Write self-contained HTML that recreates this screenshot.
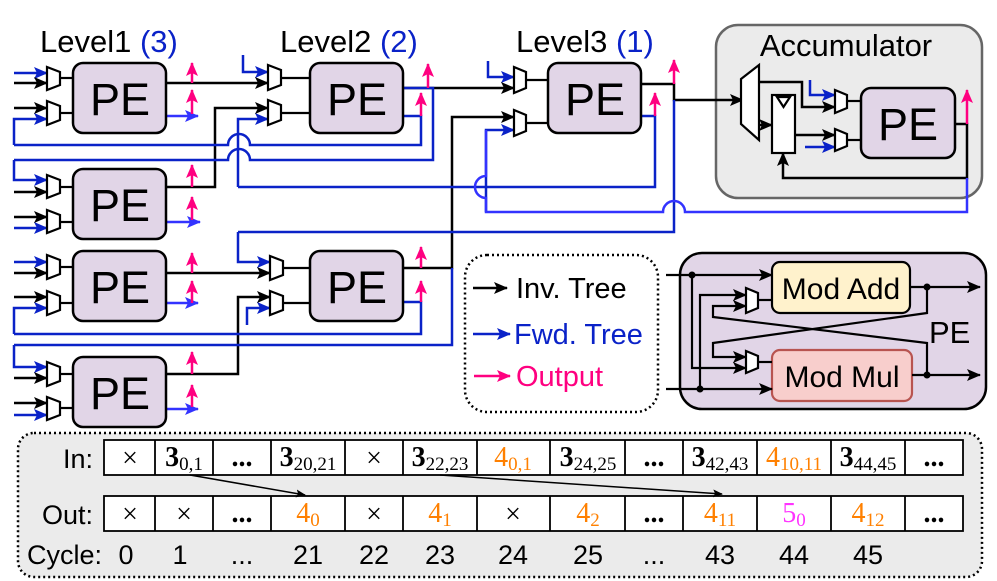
<!DOCTYPE html>
<html><head><meta charset="utf-8"><style>
html,body{margin:0;padding:0;background:#fff}
svg{display:block}
text{font-family:"Liberation Sans",sans-serif}
.m text,.m tspan{font-family:"Liberation Serif",serif}
</style></head><body>
<svg width="997" height="581" viewBox="0 0 997 581" xmlns="http://www.w3.org/2000/svg">
<defs>
<marker id="ak" markerUnits="userSpaceOnUse" markerWidth="14" markerHeight="12" refX="13" refY="6" orient="auto"><path d="M0,0 L14,6 L0,12 L3,6 z" fill="#000"/></marker>
<marker id="ab" markerUnits="userSpaceOnUse" markerWidth="14" markerHeight="12" refX="13" refY="6" orient="auto"><path d="M0,0 L14,6 L0,12 L3,6 z" fill="#0a22c8"/></marker>
<marker id="al" markerUnits="userSpaceOnUse" markerWidth="14" markerHeight="12" refX="13" refY="6" orient="auto"><path d="M0,0 L14,6 L0,12 L3,6 z" fill="#3333ff"/></marker>
<marker id="ap" markerUnits="userSpaceOnUse" markerWidth="14" markerHeight="12" refX="13" refY="6" orient="auto"><path d="M0,0 L14,6 L0,12 L3,6 z" fill="#ff0080"/></marker>
<marker id="as" markerUnits="userSpaceOnUse" markerWidth="10" markerHeight="8" refX="9" refY="4" orient="auto"><path d="M0,0 L10,4 L0,8 L2,4 z" fill="#000"/></marker>
</defs>

<!-- Titles -->
<text x="40" y="52" font-size="31">Level1 <tspan fill="#0a22c8">(3)</tspan></text>
<text x="280" y="52" font-size="31">Level2 <tspan fill="#0a22c8">(2)</tspan></text>
<text x="516" y="52" font-size="31">Level3 <tspan fill="#0a22c8">(1)</tspan></text>

<!-- Accumulator box -->
<rect x="716" y="25" width="266" height="173" rx="22" fill="#ebebeb" stroke="#666" stroke-width="2.5"/>
<text x="846" y="56" font-size="31" text-anchor="middle">Accumulator</text>

<g fill="none" stroke-width="2.5">
<g stroke="#0a22c8" marker-end="url(#ab)">
<line x1="14" y1="73" x2="47" y2="73"/><line x1="14" y1="228" x2="47" y2="228"/>
<line x1="14" y1="262" x2="47" y2="262"/><line x1="14" y1="415" x2="47" y2="415"/>
<polyline points="14,145 14,119 47,119"/>
<polyline points="14,160 14,180 47,180"/>
<polyline points="14,334 14,308 47,308"/>
<polyline points="14,345 14,367 47,367"/>
<polyline points="243,55 243,72 268,72"/>
<polyline points="488,61 488,77 514,77"/>
<polyline points="238,232 238,262 270,262"/>
<polyline points="247,325 247,308 270,308"/>
<polyline points="238,187 238,119 268,119"/>
<polyline points="486,212 486,130 514,130"/>
<polyline points="810,80 810,95 835,95"/>
<line x1="805" y1="147" x2="835" y2="147"/>
</g>
<g stroke="#000" marker-end="url(#ak)">
<line x1="14" y1="83" x2="47" y2="83"/><line x1="14" y1="108" x2="47" y2="108"/>
<line x1="14" y1="192" x2="47" y2="192"/><line x1="14" y1="217" x2="47" y2="217"/>
<line x1="14" y1="273" x2="47" y2="273"/><line x1="14" y1="297" x2="47" y2="297"/>
<line x1="14" y1="378" x2="47" y2="378"/><line x1="14" y1="403" x2="47" y2="403"/>
<line x1="166" y1="83" x2="268" y2="83"/>
<polyline points="166,187 215,187 215,108 268,108"/>
<line x1="166" y1="273" x2="270" y2="273"/>
<polyline points="166,374 238,374 238,297 270,297"/>
<polyline points="403,88 514,88"/>
<polyline points="403,268 452,268 452,117 514,117"/>
<polyline points="641,84 674,84 674,100 743,100"/>
<polyline points="759,82 802,82 802,107 835,107"/>
<line x1="795" y1="135" x2="835" y2="135"/>
<line x1="759" y1="125" x2="772" y2="125"/>
<polyline points="955,124 967,124 967,178 783,178 783,153"/>
</g>
<g stroke="#0a22c8">
<path d="M403,116 H421 V145 H250 A11,11 0 0 0 228,145 H14"/>
<path d="M403,88 H433 V160 H250 A11,11 0 0 0 228,160 H14"/>
<path d="M641,116 H655 V187 H497 H238"/>
<path d="M674,100 V232 H238"/>
<path d="M403,302 H421 V334 H14"/>
<path d="M452,268 V345 H14"/>
<path d="M486,130 V176 A11,11 0 0 0 486,198 V212 H663 A11,11 0 0 1 685,212 H967 V178" stroke="#3333ff"/>
</g>
<g stroke="#3333ff" marker-end="url(#al)">
<line x1="166" y1="116" x2="198" y2="116"/>
<line x1="166" y1="222" x2="200" y2="222"/>
<line x1="166" y1="303" x2="198" y2="303"/>
<line x1="166" y1="409" x2="198" y2="409"/>
</g>
<g stroke="#ff0080" marker-end="url(#ap)">
<line x1="192" y1="83" x2="192" y2="63"/><line x1="192" y1="114" x2="192" y2="90"/>
<line x1="192" y1="187" x2="192" y2="165"/><line x1="192" y1="220" x2="192" y2="197"/>
<line x1="192" y1="273" x2="192" y2="253"/><line x1="192" y1="303" x2="192" y2="281"/>
<line x1="192" y1="374" x2="192" y2="352"/><line x1="192" y1="407" x2="192" y2="385"/>
<line x1="428" y1="88" x2="428" y2="64"/><line x1="421" y1="116" x2="421" y2="93"/>
<line x1="421" y1="268" x2="421" y2="247"/><line x1="421" y1="302" x2="421" y2="281"/>
<line x1="674" y1="84" x2="674" y2="60"/><line x1="655" y1="116" x2="655" y2="93"/>
<line x1="967" y1="124" x2="967" y2="90"/>
</g>
</g>

<g fill="#fff" stroke="#000" stroke-width="2.2">
<polygon points="47,67 60,72 60,85 47,90"/><polygon points="47,101 60,106 60,120 47,125"/>
<polygon points="47,175 60,180 60,193 47,198"/><polygon points="47,210 60,215 60,228 47,233"/>
<polygon points="47,255 60,260 60,274 47,279"/><polygon points="47,291 60,296 60,310 47,315"/>
<polygon points="47,362 60,367 60,381 47,386"/><polygon points="47,397 60,402 60,415 47,420"/>
<polygon points="268,65 281,70 281,85 268,90"/><polygon points="268,100 281,105 281,120 268,125"/>
<polygon points="270,256 283,261 283,275 270,280"/><polygon points="270,291 283,296 283,310 270,315"/>
<polygon points="514,67 526,72 526,88 514,93"/><polygon points="514,110 526,115 526,131 514,136"/>
<polygon points="835,90 847,95 847,108 835,113"/><polygon points="835,129 847,134 847,146 835,151"/>
<polygon points="741,79 759,65 759,140 741,124"/>
<rect x="772" y="95" width="23" height="58"/>
<polygon points="777,97 790,97 783.5,107"/>
</g>
<g stroke="#000" stroke-width="2.2">
<line x1="60" y1="78" x2="73" y2="78"/><line x1="60" y1="113" x2="73" y2="113"/>
<line x1="60" y1="187" x2="73" y2="187"/><line x1="60" y1="222" x2="73" y2="222"/>
<line x1="60" y1="267" x2="73" y2="267"/><line x1="60" y1="303" x2="73" y2="303"/>
<line x1="60" y1="374" x2="73" y2="374"/><line x1="60" y1="408" x2="73" y2="408"/>
<line x1="281" y1="78" x2="310" y2="78"/><line x1="281" y1="113" x2="310" y2="113"/>
<line x1="283" y1="268" x2="310" y2="268"/><line x1="283" y1="303" x2="310" y2="303"/>
<line x1="526" y1="80" x2="548" y2="80"/><line x1="526" y1="123" x2="548" y2="123"/>
<line x1="847" y1="101" x2="861" y2="101"/><line x1="847" y1="140" x2="861" y2="140"/>
</g>

<g fill="#e1d5e7" stroke="#000" stroke-width="2.5">
<rect x="73" y="63" width="93" height="70" rx="10"/>
<rect x="73" y="169" width="93" height="70" rx="10"/>
<rect x="73" y="251" width="93" height="70" rx="10"/>
<rect x="73" y="357" width="93" height="70" rx="10"/>
<rect x="310" y="63" width="93" height="70" rx="10"/>
<rect x="310" y="251" width="93" height="70" rx="10"/>
<rect x="548" y="63" width="93" height="70" rx="10"/>
<rect x="861" y="88" width="94" height="70" rx="10"/>
</g>
<g font-size="45" text-anchor="middle">
<text x="120" y="115">PE</text><text x="120" y="221">PE</text>
<text x="120" y="303">PE</text><text x="120" y="409">PE</text>
<text x="357" y="115">PE</text><text x="357" y="303">PE</text>
<text x="595" y="115">PE</text><text x="908" y="140">PE</text>
</g>

<rect x="465" y="255" width="193" height="157" rx="22" fill="none" stroke="#000" stroke-width="2.5" stroke-dasharray="2,3"/>
<line x1="473" y1="288" x2="507" y2="288" stroke="#000" stroke-width="2.5" marker-end="url(#ak)"/>
<line x1="473" y1="334" x2="510" y2="334" stroke="#0a22c8" stroke-width="2.5" marker-end="url(#ab)"/>
<line x1="474" y1="376" x2="510" y2="376" stroke="#ff0080" stroke-width="2.5" marker-end="url(#ap)"/>
<text x="516" y="298" font-size="29">Inv. Tree</text>
<text x="514" y="344" font-size="29" fill="#0a22c8">Fwd. Tree</text>
<text x="516" y="386" font-size="29" fill="#ff0080">Output</text>

<rect x="680" y="253" width="306" height="156" rx="22" fill="#e1d5e7" stroke="#000" stroke-width="2.5"/>
<rect x="772" y="262" width="138" height="51" rx="8" fill="#fff2cc" stroke="#000" stroke-width="2.2"/>
<rect x="772" y="350" width="140" height="51" rx="8" fill="#f8cecc" stroke="#b85450" stroke-width="2.2"/>
<text x="841" y="299" font-size="30" text-anchor="middle">Mod Add</text>
<text x="842" y="387" font-size="30" text-anchor="middle">Mod Mul</text>
<text x="929" y="343" font-size="31">PE</text>
<g fill="none" stroke="#000" stroke-width="2.2">
<line x1="666" y1="275" x2="772" y2="275" marker-end="url(#ak)"/>
<line x1="666" y1="389" x2="772" y2="389" marker-end="url(#ak)"/>
<polyline points="692,275 692,368 746,368" marker-end="url(#ak)"/>
<polyline points="700,389 700,295 746,295" marker-end="url(#ak)"/>
<polyline points="927,375 927,343 713,317 713,306 746,306" marker-end="url(#ak)"/>
<polyline points="927,287 927,313 713,343 713,357 746,357" marker-end="url(#ak)"/>
<line x1="910" y1="287" x2="980" y2="287" marker-end="url(#ak)"/>
<line x1="912" y1="375" x2="980" y2="375" marker-end="url(#ak)"/>
<line x1="758" y1="300" x2="772" y2="300"/>
<line x1="758" y1="362" x2="772" y2="362"/>
<polygon points="746,288 758,293 758,308 746,313" fill="#fff"/>
<polygon points="746,351 758,356 758,368 746,373" fill="#fff"/>
</g>
<g fill="#000"><circle cx="692" cy="275" r="3.5"/><circle cx="700" cy="389" r="3.5"/><circle cx="927" cy="287" r="3.5"/><circle cx="927" cy="375" r="3.5"/></g>

<rect x="18" y="433" width="964" height="144" rx="16" fill="#ebebeb" stroke="#000" stroke-width="2.5" stroke-dasharray="2,3"/>
<g fill="#fff" stroke="#000" stroke-width="1.8">
<rect x="104" y="440" width="859" height="35"/>
<rect x="104" y="496" width="859" height="35"/>
</g>
<g stroke="#000" stroke-width="1.8">
<line x1="155" y1="440" x2="155" y2="475"/><line x1="213" y1="440" x2="213" y2="475"/><line x1="271" y1="440" x2="271" y2="475"/><line x1="345" y1="440" x2="345" y2="475"/><line x1="403" y1="440" x2="403" y2="475"/><line x1="477" y1="440" x2="477" y2="475"/><line x1="550" y1="440" x2="550" y2="475"/><line x1="625" y1="440" x2="625" y2="475"/><line x1="683" y1="440" x2="683" y2="475"/><line x1="757" y1="440" x2="757" y2="475"/><line x1="831" y1="440" x2="831" y2="475"/><line x1="905" y1="440" x2="905" y2="475"/>
<line x1="155" y1="496" x2="155" y2="531"/><line x1="213" y1="496" x2="213" y2="531"/><line x1="271" y1="496" x2="271" y2="531"/><line x1="345" y1="496" x2="345" y2="531"/><line x1="403" y1="496" x2="403" y2="531"/><line x1="477" y1="496" x2="477" y2="531"/><line x1="550" y1="496" x2="550" y2="531"/><line x1="625" y1="496" x2="625" y2="531"/><line x1="683" y1="496" x2="683" y2="531"/><line x1="757" y1="496" x2="757" y2="531"/><line x1="831" y1="496" x2="831" y2="531"/><line x1="905" y1="496" x2="905" y2="531"/>
</g>
<g stroke="#000" stroke-width="1.5" fill="none">
<line x1="190" y1="475" x2="305" y2="495" marker-end="url(#as)"/>
<line x1="440" y1="475" x2="722" y2="494" marker-end="url(#as)"/>
</g>
<g font-size="27">
<text x="93" y="468" text-anchor="end">In:</text>
<text x="93" y="524" text-anchor="end">Out:</text>
<text x="27" y="564">Cycle:</text>
</g>
<g font-size="27" text-anchor="middle">
<text x="126" y="564">0</text><text x="180" y="564">1</text><text x="242" y="564">...</text><text x="308" y="564">21</text><text x="374" y="564">22</text><text x="440" y="564">23</text><text x="513" y="564">24</text><text x="588" y="564">25</text><text x="654" y="564">...</text><text x="720" y="564">43</text><text x="794" y="564">44</text><text x="868" y="564">45</text>
</g>
<g class="m" font-size="28" text-anchor="middle">
<text x="130" y="467">×</text>
<text x="184" y="466" font-weight="bold">3<tspan font-size="19" font-weight="normal" dy="4">0,1</tspan></text>
<text x="242" y="466" font-weight="bold">...</text>
<text x="308" y="466" font-weight="bold">3<tspan font-size="19" font-weight="normal" dy="4">20,21</tspan></text>
<text x="374" y="467">×</text>
<text x="440" y="466" font-weight="bold">3<tspan font-size="19" font-weight="normal" dy="4">22,23</tspan></text>
<text x="513" y="466" fill="#ff8000">4<tspan font-size="19" dy="4">0,1</tspan></text>
<text x="588" y="466" font-weight="bold">3<tspan font-size="19" font-weight="normal" dy="4">24,25</tspan></text>
<text x="654" y="466" font-weight="bold">...</text>
<text x="720" y="466" font-weight="bold">3<tspan font-size="19" font-weight="normal" dy="4">42,43</tspan></text>
<text x="794" y="466" fill="#ff8000">4<tspan font-size="19" dy="4">10,11</tspan></text>
<text x="868" y="466" font-weight="bold">3<tspan font-size="19" font-weight="normal" dy="4">44,45</tspan></text>
<text x="934" y="466" font-weight="bold">...</text>

<text x="130" y="523">×</text>
<text x="184" y="523">×</text>
<text x="242" y="522" font-weight="bold">...</text>
<text x="308" y="522" fill="#ff8000">4<tspan font-size="19" dy="4">0</tspan></text>
<text x="374" y="523">×</text>
<text x="440" y="522" fill="#ff8000">4<tspan font-size="19" dy="4">1</tspan></text>
<text x="513" y="523">×</text>
<text x="588" y="522" fill="#ff8000">4<tspan font-size="19" dy="4">2</tspan></text>
<text x="654" y="522" font-weight="bold">...</text>
<text x="720" y="522" fill="#ff8000">4<tspan font-size="19" dy="4">11</tspan></text>
<text x="794" y="522" fill="#ff33ff">5<tspan font-size="19" dy="4">0</tspan></text>
<text x="868" y="522" fill="#ff8000">4<tspan font-size="19" dy="4">12</tspan></text>
<text x="934" y="522" font-weight="bold">...</text>
</g>
</svg>
</body></html>
